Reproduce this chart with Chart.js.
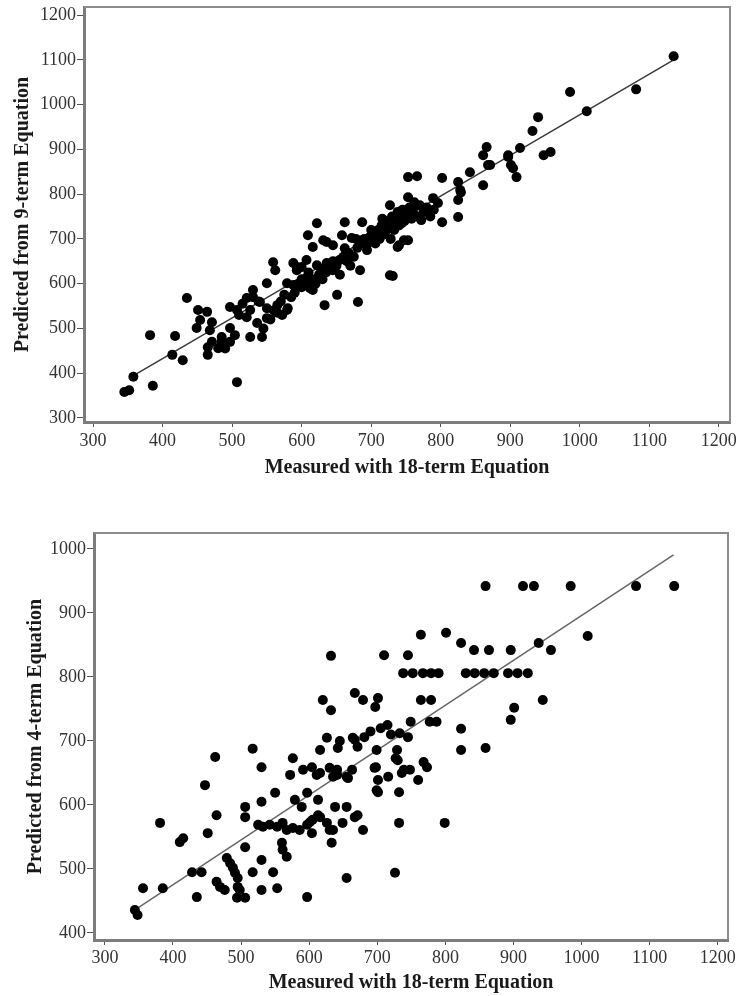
<!DOCTYPE html>
<html>
<head>
<meta charset="utf-8">
<script src="https://cdn.jsdelivr.net/npm/chart.js@4.4.1/dist/chart.umd.min.js"></script>
<style>
  html, body { margin: 0; padding: 0; background: #fff; }
  #wrap { position: relative; width: 742px; height: 996px; }
  canvas { position: absolute; left: 0; }
</style>
</head>
<body>
<div id="wrap">
  <canvas id="chart-9" width="742" height="480" style="top:0"></canvas>
  <canvas id="chart-4" width="742" height="506" style="top:490px"></canvas>
</div>
<script>
// ── data ─────────────────────────────────────────────────────────────

// [measured 18-term, predicted 9-term]
const points9 = [
  [345,358],[352,362],[358,392],[382,485],[386,372],[414,441],[418,483],[429,429],[435,568],[449,501],
  [451,541],[454,519],[464,537],[465,458],[465,441],[468,496],[471,514],[471,470],[480,456],[485,481],
  [497,548],[497,501],[497,470],[504,485],[507,541],[507,380],[521,568],[521,525],[526,541],[526,481],
  [530,586],[536,512],[540,559],[543,481],[550,601],[550,545],[550,523],[559,648],[562,630],[565,552],
  [579,601],[579,541],[588,646],[588,597],[593,630],[593,637],[600,637],[600,592],[607,653],[608,615],
  [609,708],[616,682],[616,586],[622,735],[622,641],[631,697],[633,552],[636,646],[636,693],[645,686],
  [645,630],[651,575],[655,653],[658,708],[662,737],[662,679],[672,702],[684,630],[687,737],[694,675],
  [698,704],[727,619],[727,775],[738,682],[753,697],[753,793],[753,838],[763,775],[766,840],[789,791],
  [802,836],[802,737],[825,827],[825,787],[825,749],[828,809],[842,849],[861,887],[861,820],[866,905],
  [871,865],[897,887],[904,858],[909,838],[914,903],[932,941],[940,972],[948,887],[958,894],[986,1028],
  [1010,985],[1081,1034],[1135,1108],[868,865],[829,804],[901,865],[897,883],
  [570,560],[575,575],[585,570],[590,580],[595,600],[600,610],[605,600],[610,625],[615,610],[620,600],
  [625,620],[630,610],[635,625],[640,640],[645,650],[650,640],[655,620],[660,660],[665,650],[670,640],
  [675,660],[680,680],[685,690],[690,700],[695,690],[700,720],[705,710],[710,720],[712,700],[715,730],
  [718,710],[720,740],[722,720],[725,730],[728,700],[730,750],[733,720],[735,740],[738,760],[740,730],
  [742,750],[745,765],[748,740],[750,755],[755,770],[758,745],[760,760],[765,750],[770,775],[775,760],
  [780,770],[785,750],[790,765],[681,559],[731,617],[740,686],[747,697],[555,520],[560,540],[565,535],
  [572,530],[580,545],[545,500],[538,560],[530,570],[515,555],[510,530],[485,470],[490,455],
  [612,590],[628,632],[668,668],[678,700],[706,690],[716,745],[744,735],[762,782],[772,742],[796,780]
];

// [measured 18-term, predicted 4-term]
const points4 = [
  [344,436],[348,428],[356,470],[381,572],[385,470],[410,542],[415,548],[428,495],[435,456],[442,495],
  [447,631],[451,556],[462,675],[464,584],[464,480],[469,472],[476,467],[479,517],[484,509],[488,502],
  [491,494],[495,486],[495,472],[498,467],[494,455],[506,455],[506,597],[506,581],[506,534],[517,688],
  [517,495],[525,569],[530,659],[530,605],[530,514],[530,467],[542,569],[547,495],[550,619],[553,566],
  [553,470],[560,541],[561,530],[561,572],[567,519],[567,561],[572,647],[576,673],[576,564],[579,608],
  [589,597],[591,655],[597,619],[597,569],[597,456],[601,573],[604,659],[604,556],[605,577],[611,647],
  [613,608],[613,584],[616,686],[616,650],[616,581],[620,764],[626,705],[626,572],[630,658],[630,561],
  [632,833],[632,748],[633,541],[635,561],[635,644],[638,597],[641,655],[641,647],[642,689],[645,700],
  [649,572],[655,597],[655,644],[655,486],[657,642],[663,655],[664,705],[667,775],[667,702],[667,581],
  [671,691],[671,584],[679,764],[679,561],[681,706],[690,715],[696,658],[697,753],[698,659],[699,686],
  [699,623],[701,767],[701,639],[701,620],[705,720],[710,834],[715,725],[716,644],[720,710],[726,494],
  [727,673],[729,686],[730,670],[732,572],[732,620],[733,712],[736,650],[738,806],[739,655],[745,834],
  [745,706],[748,655],[749,730],[752,806],[760,639],[764,866],[764,764],[767,806],[768,667],[773,659],
  [777,730],[779,806],[779,764],[787,730],[790,806],[799,572],[801,869],[823,853],[823,719],[823,686],
  [830,806],[842,842],[843,806],[857,806],[859,942],[859,689],[864,842],[871,806],[892,806],[896,842],
  [896,733],[901,752],[906,806],[914,942],[921,806],[930,942],[937,853],[943,764],[955,842],[984,942],
  [1009,864],[1080,942],[1136,942],[586,561],[532,566]
];

// fitted lines, end points
const fit9 = [[355,392],[1135,1100]];
const fit4 = [[348,439],[1135,991]];

const xTicks = [300,400,500,600,700,800,900,1000,1100,1200];
const yTicks9 = [300,400,500,600,700,800,900,1000,1100,1200];
const yTicks4 = [400,500,600,700,800,900,1000];

// ── drawing ──────────────────────────────────────────────────────────

const SERIF = "'Liberation Serif', 'DejaVu Serif', serif";

const framePlugin = {
  id: "frame",
  afterDatasetsDraw(chart) {
    const { ctx, chartArea: a } = chart;
    ctx.save();
    ctx.strokeStyle = "#8c8c8c";
    ctx.lineWidth = 2;
    ctx.beginPath();
    ctx.moveTo(a.left, a.top);
    ctx.lineTo(a.right, a.top);
    ctx.lineTo(a.right, a.bottom);
    ctx.stroke();
    ctx.restore();
  },
};

function noEdgePadding(axis) {
  axis.paddingTop = axis.paddingBottom = axis.paddingLeft = axis.paddingRight = 0;
}

function scatterChart(id, pts, fit, o) {
  const toXY = ([x, y]) => ({ x, y });
  return new Chart(document.getElementById(id), {
    type: "scatter",
    data: {
      datasets: [
        {
          type: "line",
          data: fit.map(toXY),
          borderColor: o.lineColor,
          borderWidth: 1.5,
          pointRadius: 0,
          fill: false,
          order: 2,
        },
        {
          data: pts.map(toXY),
          backgroundColor: "#000",
          borderWidth: 0,
          pointRadius: 5,
          order: 1,
        },
      ],
    },
    options: {
      responsive: false,
      animation: false,
      events: [],
      layout: { padding: o.pad },
      plugins: { legend: { display: false }, tooltip: { enabled: false } },
      scales: {
        x: {
          type: "linear",
          min: o.xMin,
          max: o.xMax,
          afterBuildTicks: a => { a.ticks = xTicks.map(v => ({ value: v })); },
          afterFit: a => { a.height = o.xH; noEdgePadding(a); },
          border: { display: true, color: "#7d7d7d", width: 3 },
          grid: { drawOnChartArea: false, drawTicks: true, tickLength: 5, color: "#555" },
          ticks: {
            autoSkip: false, maxRotation: 0, padding: o.xTickPad,
            color: "#333", font: { family: SERIF, size: 18 },
            callback: v => String(v),
          },
          title: {
            display: true, text: "Measured with 18-term Equation", color: "#1a1a1a",
            font: { family: SERIF, size: 20, weight: "bold" },
            padding: { top: 0, bottom: o.xTitlePad },
          },
        },
        y: {
          type: "linear",
          min: o.yMin,
          max: o.yMax,
          afterBuildTicks: a => { a.ticks = o.yTicks.map(v => ({ value: v })); },
          afterFit: a => { a.width = o.yW; noEdgePadding(a); },
          border: { display: true, color: "#7d7d7d", width: 3 },
          grid: { drawOnChartArea: false, drawTicks: true, tickLength: 7, color: "#555" },
          ticks: {
            autoSkip: false, padding: 1,
            color: "#333", font: { family: SERIF, size: 18 },
            callback: v => String(v),
          },
          title: {
            display: true, text: o.yTitle, color: "#1a1a1a",
            font: { family: SERIF, size: 20, weight: "bold" },
            padding: { top: o.yTitlePad, bottom: 0 },
          },
        },
      },
    },
    plugins: [framePlugin],
  });
}

scatterChart("chart-9", points9, fit9, {
  pad: { top: 7, right: 12, bottom: 0, left: 0 },
  xMin: 287, xMax: 1216, yMin: 291, yMax: 1218,
  xH: 58, yW: 84, xTickPad: 3, xTitlePad: 0, yTitlePad: 11,
  yTicks: yTicks9, yTitle: "Predicted from 9-term Equation", lineColor: "#3a3a3a",
});

scatterChart("chart-4", points4, fit4, {
  pad: { top: 43, right: 14, bottom: 0, left: 0 },
  xMin: 284, xMax: 1215, yMin: 389, yMax: 1025,
  xH: 56, yW: 94, xTickPad: 2, xTitlePad: 1, yTitlePad: 24,
  yTicks: yTicks4, yTitle: "Predicted from 4-term Equation", lineColor: "#666",
});
</script>
</body>
</html>
